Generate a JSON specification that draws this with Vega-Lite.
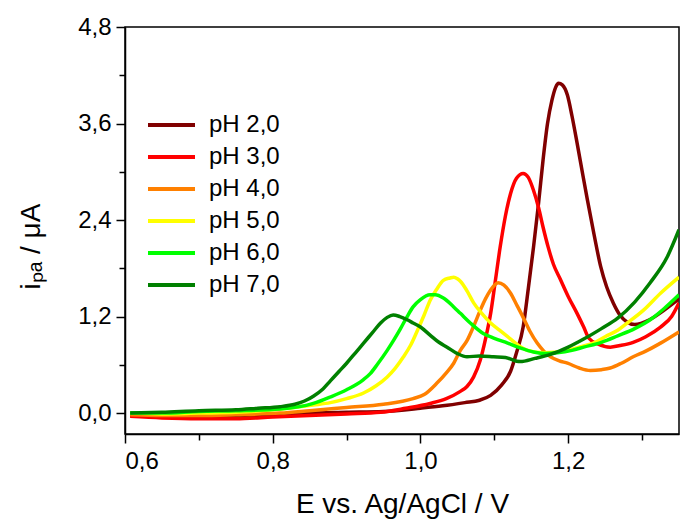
{
  "$schema": "https://vega.github.io/schema/vega-lite/v6.json",
  "width": 554,
  "height": 407,
  "autosize": {"type": "none"},
  "padding": {"left": 125, "top": 27, "right": 13, "bottom": 93},
  "background": "white",
  "config": {
    "view": {"stroke": "black", "strokeWidth": 1.5},
    "axis": {
      "grid": false,
      "domainColor": "black",
      "domainWidth": 1.5,
      "tickColor": "black",
      "tickWidth": 1.5,
      "labelFont": "Liberation Sans",
      "labelFontSize": 24,
      "labelColor": "black",
      "titleFont": "Liberation Sans",
      "titleFontSize": 28,
      "titleFontWeight": "normal",
      "titleColor": "black"
    },
    "legend": {
      "labelFont": "Liberation Sans",
      "labelFontSize": 24,
      "labelColor": "black"
    }
  },
  "data": {
    "values": [
      {"pH": "pH 2,0", "E": 0.607, "i": -0.03}, {"pH": "pH 2,0", "E": 0.65, "i": -0.04}, {"pH": "pH 2,0", "E": 0.7, "i": -0.05}, {"pH": "pH 2,0", "E": 0.75, "i": -0.04}, {"pH": "pH 2,0", "E": 0.8, "i": -0.02}, {"pH": "pH 2,0", "E": 0.85, "i": 0.0}, {"pH": "pH 2,0", "E": 0.9, "i": 0.01}, {"pH": "pH 2,0", "E": 0.95, "i": 0.02}, {"pH": "pH 2,0", "E": 1.0, "i": 0.06}, {"pH": "pH 2,0", "E": 1.03, "i": 0.09}, {"pH": "pH 2,0", "E": 1.06, "i": 0.13}, {"pH": "pH 2,0", "E": 1.08, "i": 0.16}, {"pH": "pH 2,0", "E": 1.095, "i": 0.22}, {"pH": "pH 2,0", "E": 1.11, "i": 0.35}, {"pH": "pH 2,0", "E": 1.122, "i": 0.52}, {"pH": "pH 2,0", "E": 1.13, "i": 0.75}, {"pH": "pH 2,0", "E": 1.139, "i": 1.07}, {"pH": "pH 2,0", "E": 1.146, "i": 1.55}, {"pH": "pH 2,0", "E": 1.153, "i": 2.06}, {"pH": "pH 2,0", "E": 1.16, "i": 2.62}, {"pH": "pH 2,0", "E": 1.166, "i": 3.15}, {"pH": "pH 2,0", "E": 1.172, "i": 3.6}, {"pH": "pH 2,0", "E": 1.178, "i": 3.89}, {"pH": "pH 2,0", "E": 1.183, "i": 4.05}, {"pH": "pH 2,0", "E": 1.187, "i": 4.1}, {"pH": "pH 2,0", "E": 1.192, "i": 4.08}, {"pH": "pH 2,0", "E": 1.199, "i": 3.95}, {"pH": "pH 2,0", "E": 1.205, "i": 3.7}, {"pH": "pH 2,0", "E": 1.212, "i": 3.36}, {"pH": "pH 2,0", "E": 1.22, "i": 2.95}, {"pH": "pH 2,0", "E": 1.226, "i": 2.65}, {"pH": "pH 2,0", "E": 1.235, "i": 2.22}, {"pH": "pH 2,0", "E": 1.244, "i": 1.82}, {"pH": "pH 2,0", "E": 1.252, "i": 1.57}, {"pH": "pH 2,0", "E": 1.261, "i": 1.37}, {"pH": "pH 2,0", "E": 1.27, "i": 1.22}, {"pH": "pH 2,0", "E": 1.28, "i": 1.13}, {"pH": "pH 2,0", "E": 1.29, "i": 1.1}, {"pH": "pH 2,0", "E": 1.31, "i": 1.16}, {"pH": "pH 2,0", "E": 1.33, "i": 1.28}, {"pH": "pH 2,0", "E": 1.35, "i": 1.42},

      {"pH": "pH 3,0", "E": 0.607, "i": -0.04}, {"pH": "pH 3,0", "E": 0.65, "i": -0.06}, {"pH": "pH 3,0", "E": 0.7, "i": -0.07}, {"pH": "pH 3,0", "E": 0.75, "i": -0.07}, {"pH": "pH 3,0", "E": 0.8, "i": -0.05}, {"pH": "pH 3,0", "E": 0.85, "i": -0.03}, {"pH": "pH 3,0", "E": 0.9, "i": -0.01}, {"pH": "pH 3,0", "E": 0.946, "i": 0.01}, {"pH": "pH 3,0", "E": 0.98, "i": 0.06}, {"pH": "pH 3,0", "E": 1.013, "i": 0.12}, {"pH": "pH 3,0", "E": 1.035, "i": 0.18}, {"pH": "pH 3,0", "E": 1.054, "i": 0.27}, {"pH": "pH 3,0", "E": 1.063, "i": 0.33}, {"pH": "pH 3,0", "E": 1.072, "i": 0.45}, {"pH": "pH 3,0", "E": 1.081, "i": 0.66}, {"pH": "pH 3,0", "E": 1.088, "i": 0.92}, {"pH": "pH 3,0", "E": 1.095, "i": 1.24}, {"pH": "pH 3,0", "E": 1.101, "i": 1.62}, {"pH": "pH 3,0", "E": 1.108, "i": 2.07}, {"pH": "pH 3,0", "E": 1.115, "i": 2.45}, {"pH": "pH 3,0", "E": 1.122, "i": 2.73}, {"pH": "pH 3,0", "E": 1.13, "i": 2.92}, {"pH": "pH 3,0", "E": 1.139, "i": 2.98}, {"pH": "pH 3,0", "E": 1.146, "i": 2.93}, {"pH": "pH 3,0", "E": 1.153, "i": 2.77}, {"pH": "pH 3,0", "E": 1.16, "i": 2.55}, {"pH": "pH 3,0", "E": 1.166, "i": 2.31}, {"pH": "pH 3,0", "E": 1.173, "i": 2.06}, {"pH": "pH 3,0", "E": 1.18, "i": 1.85}, {"pH": "pH 3,0", "E": 1.189, "i": 1.67}, {"pH": "pH 3,0", "E": 1.2, "i": 1.45}, {"pH": "pH 3,0", "E": 1.212, "i": 1.24}, {"pH": "pH 3,0", "E": 1.221, "i": 1.07}, {"pH": "pH 3,0", "E": 1.228, "i": 0.93}, {"pH": "pH 3,0", "E": 1.24, "i": 0.86}, {"pH": "pH 3,0", "E": 1.257, "i": 0.82}, {"pH": "pH 3,0", "E": 1.27, "i": 0.84}, {"pH": "pH 3,0", "E": 1.288, "i": 0.88}, {"pH": "pH 3,0", "E": 1.305, "i": 0.95}, {"pH": "pH 3,0", "E": 1.325, "i": 1.07}, {"pH": "pH 3,0", "E": 1.34, "i": 1.2}, {"pH": "pH 3,0", "E": 1.35, "i": 1.37},

      {"pH": "pH 4,0", "E": 0.607, "i": -0.02}, {"pH": "pH 4,0", "E": 0.65, "i": -0.03}, {"pH": "pH 4,0", "E": 0.7, "i": -0.03}, {"pH": "pH 4,0", "E": 0.75, "i": -0.02}, {"pH": "pH 4,0", "E": 0.81, "i": 0.0}, {"pH": "pH 4,0", "E": 0.85, "i": 0.03}, {"pH": "pH 4,0", "E": 0.9, "i": 0.07}, {"pH": "pH 4,0", "E": 0.95, "i": 0.11}, {"pH": "pH 4,0", "E": 0.99, "i": 0.18}, {"pH": "pH 4,0", "E": 1.005, "i": 0.23}, {"pH": "pH 4,0", "E": 1.022, "i": 0.37}, {"pH": "pH 4,0", "E": 1.035, "i": 0.5}, {"pH": "pH 4,0", "E": 1.045, "i": 0.62}, {"pH": "pH 4,0", "E": 1.054, "i": 0.78}, {"pH": "pH 4,0", "E": 1.063, "i": 0.9}, {"pH": "pH 4,0", "E": 1.072, "i": 1.08}, {"pH": "pH 4,0", "E": 1.081, "i": 1.28}, {"pH": "pH 4,0", "E": 1.088, "i": 1.42}, {"pH": "pH 4,0", "E": 1.095, "i": 1.53}, {"pH": "pH 4,0", "E": 1.1, "i": 1.59}, {"pH": "pH 4,0", "E": 1.105, "i": 1.62}, {"pH": "pH 4,0", "E": 1.113, "i": 1.59}, {"pH": "pH 4,0", "E": 1.122, "i": 1.49}, {"pH": "pH 4,0", "E": 1.13, "i": 1.35}, {"pH": "pH 4,0", "E": 1.139, "i": 1.19}, {"pH": "pH 4,0", "E": 1.148, "i": 1.02}, {"pH": "pH 4,0", "E": 1.158, "i": 0.87}, {"pH": "pH 4,0", "E": 1.167, "i": 0.77}, {"pH": "pH 4,0", "E": 1.176, "i": 0.7}, {"pH": "pH 4,0", "E": 1.188, "i": 0.65}, {"pH": "pH 4,0", "E": 1.199, "i": 0.62}, {"pH": "pH 4,0", "E": 1.215, "i": 0.56}, {"pH": "pH 4,0", "E": 1.23, "i": 0.53}, {"pH": "pH 4,0", "E": 1.245, "i": 0.54}, {"pH": "pH 4,0", "E": 1.257, "i": 0.56}, {"pH": "pH 4,0", "E": 1.272, "i": 0.62}, {"pH": "pH 4,0", "E": 1.288, "i": 0.7}, {"pH": "pH 4,0", "E": 1.305, "i": 0.77}, {"pH": "pH 4,0", "E": 1.325, "i": 0.87}, {"pH": "pH 4,0", "E": 1.35, "i": 1.01},

      {"pH": "pH 5,0", "E": 0.607, "i": 0.0}, {"pH": "pH 5,0", "E": 0.65, "i": -0.01}, {"pH": "pH 5,0", "E": 0.7, "i": 0.0}, {"pH": "pH 5,0", "E": 0.75, "i": 0.01}, {"pH": "pH 5,0", "E": 0.8, "i": 0.04}, {"pH": "pH 5,0", "E": 0.855, "i": 0.1}, {"pH": "pH 5,0", "E": 0.878, "i": 0.13}, {"pH": "pH 5,0", "E": 0.9, "i": 0.18}, {"pH": "pH 5,0", "E": 0.923, "i": 0.25}, {"pH": "pH 5,0", "E": 0.94, "i": 0.34}, {"pH": "pH 5,0", "E": 0.955, "i": 0.45}, {"pH": "pH 5,0", "E": 0.966, "i": 0.56}, {"pH": "pH 5,0", "E": 0.977, "i": 0.7}, {"pH": "pH 5,0", "E": 0.987, "i": 0.85}, {"pH": "pH 5,0", "E": 0.996, "i": 1.03}, {"pH": "pH 5,0", "E": 1.005, "i": 1.22}, {"pH": "pH 5,0", "E": 1.013, "i": 1.4}, {"pH": "pH 5,0", "E": 1.022, "i": 1.54}, {"pH": "pH 5,0", "E": 1.031, "i": 1.65}, {"pH": "pH 5,0", "E": 1.04, "i": 1.68}, {"pH": "pH 5,0", "E": 1.045, "i": 1.69}, {"pH": "pH 5,0", "E": 1.05, "i": 1.67}, {"pH": "pH 5,0", "E": 1.054, "i": 1.64}, {"pH": "pH 5,0", "E": 1.063, "i": 1.52}, {"pH": "pH 5,0", "E": 1.072, "i": 1.37}, {"pH": "pH 5,0", "E": 1.083, "i": 1.24}, {"pH": "pH 5,0", "E": 1.095, "i": 1.12}, {"pH": "pH 5,0", "E": 1.107, "i": 1.03}, {"pH": "pH 5,0", "E": 1.118, "i": 0.95}, {"pH": "pH 5,0", "E": 1.13, "i": 0.86}, {"pH": "pH 5,0", "E": 1.145, "i": 0.78}, {"pH": "pH 5,0", "E": 1.166, "i": 0.75}, {"pH": "pH 5,0", "E": 1.185, "i": 0.76}, {"pH": "pH 5,0", "E": 1.199, "i": 0.78}, {"pH": "pH 5,0", "E": 1.215, "i": 0.82}, {"pH": "pH 5,0", "E": 1.234, "i": 0.87}, {"pH": "pH 5,0", "E": 1.25, "i": 0.95}, {"pH": "pH 5,0", "E": 1.267, "i": 1.03}, {"pH": "pH 5,0", "E": 1.28, "i": 1.12}, {"pH": "pH 5,0", "E": 1.302, "i": 1.28}, {"pH": "pH 5,0", "E": 1.325, "i": 1.49}, {"pH": "pH 5,0", "E": 1.35, "i": 1.69},

      {"pH": "pH 6,0", "E": 0.607, "i": 0.0}, {"pH": "pH 6,0", "E": 0.65, "i": 0.0}, {"pH": "pH 6,0", "E": 0.7, "i": 0.02}, {"pH": "pH 6,0", "E": 0.75, "i": 0.03}, {"pH": "pH 6,0", "E": 0.81, "i": 0.05}, {"pH": "pH 6,0", "E": 0.855, "i": 0.12}, {"pH": "pH 6,0", "E": 0.878, "i": 0.2}, {"pH": "pH 6,0", "E": 0.9, "i": 0.29}, {"pH": "pH 6,0", "E": 0.922, "i": 0.41}, {"pH": "pH 6,0", "E": 0.932, "i": 0.49}, {"pH": "pH 6,0", "E": 0.942, "i": 0.61}, {"pH": "pH 6,0", "E": 0.955, "i": 0.78}, {"pH": "pH 6,0", "E": 0.964, "i": 0.91}, {"pH": "pH 6,0", "E": 0.973, "i": 1.05}, {"pH": "pH 6,0", "E": 0.982, "i": 1.2}, {"pH": "pH 6,0", "E": 0.99, "i": 1.32}, {"pH": "pH 6,0", "E": 1.0, "i": 1.41}, {"pH": "pH 6,0", "E": 1.013, "i": 1.47}, {"pH": "pH 6,0", "E": 1.02, "i": 1.47}, {"pH": "pH 6,0", "E": 1.031, "i": 1.43}, {"pH": "pH 6,0", "E": 1.045, "i": 1.32}, {"pH": "pH 6,0", "E": 1.054, "i": 1.24}, {"pH": "pH 6,0", "E": 1.07, "i": 1.1}, {"pH": "pH 6,0", "E": 1.085, "i": 0.99}, {"pH": "pH 6,0", "E": 1.1, "i": 0.93}, {"pH": "pH 6,0", "E": 1.118, "i": 0.87}, {"pH": "pH 6,0", "E": 1.135, "i": 0.81}, {"pH": "pH 6,0", "E": 1.153, "i": 0.76}, {"pH": "pH 6,0", "E": 1.17, "i": 0.74}, {"pH": "pH 6,0", "E": 1.185, "i": 0.75}, {"pH": "pH 6,0", "E": 1.205, "i": 0.78}, {"pH": "pH 6,0", "E": 1.221, "i": 0.82}, {"pH": "pH 6,0", "E": 1.245, "i": 0.88}, {"pH": "pH 6,0", "E": 1.267, "i": 0.96}, {"pH": "pH 6,0", "E": 1.29, "i": 1.05}, {"pH": "pH 6,0", "E": 1.311, "i": 1.16}, {"pH": "pH 6,0", "E": 1.33, "i": 1.3}, {"pH": "pH 6,0", "E": 1.35, "i": 1.47},

      {"pH": "pH 7,0", "E": 0.607, "i": 0.0}, {"pH": "pH 7,0", "E": 0.65, "i": 0.01}, {"pH": "pH 7,0", "E": 0.7, "i": 0.03}, {"pH": "pH 7,0", "E": 0.75, "i": 0.04}, {"pH": "pH 7,0", "E": 0.78, "i": 0.06}, {"pH": "pH 7,0", "E": 0.81, "i": 0.08}, {"pH": "pH 7,0", "E": 0.83, "i": 0.11}, {"pH": "pH 7,0", "E": 0.843, "i": 0.15}, {"pH": "pH 7,0", "E": 0.855, "i": 0.21}, {"pH": "pH 7,0", "E": 0.868, "i": 0.3}, {"pH": "pH 7,0", "E": 0.878, "i": 0.4}, {"pH": "pH 7,0", "E": 0.89, "i": 0.52}, {"pH": "pH 7,0", "E": 0.9, "i": 0.62}, {"pH": "pH 7,0", "E": 0.912, "i": 0.75}, {"pH": "pH 7,0", "E": 0.923, "i": 0.87}, {"pH": "pH 7,0", "E": 0.935, "i": 1.0}, {"pH": "pH 7,0", "E": 0.946, "i": 1.12}, {"pH": "pH 7,0", "E": 0.955, "i": 1.19}, {"pH": "pH 7,0", "E": 0.963, "i": 1.22}, {"pH": "pH 7,0", "E": 0.972, "i": 1.2}, {"pH": "pH 7,0", "E": 0.982, "i": 1.16}, {"pH": "pH 7,0", "E": 0.99, "i": 1.12}, {"pH": "pH 7,0", "E": 1.0, "i": 1.07}, {"pH": "pH 7,0", "E": 1.013, "i": 0.97}, {"pH": "pH 7,0", "E": 1.025, "i": 0.88}, {"pH": "pH 7,0", "E": 1.036, "i": 0.82}, {"pH": "pH 7,0", "E": 1.05, "i": 0.74}, {"pH": "pH 7,0", "E": 1.063, "i": 0.7}, {"pH": "pH 7,0", "E": 1.08, "i": 0.71}, {"pH": "pH 7,0", "E": 1.099, "i": 0.7}, {"pH": "pH 7,0", "E": 1.115, "i": 0.69}, {"pH": "pH 7,0", "E": 1.135, "i": 0.64}, {"pH": "pH 7,0", "E": 1.155, "i": 0.68}, {"pH": "pH 7,0", "E": 1.176, "i": 0.73}, {"pH": "pH 7,0", "E": 1.2, "i": 0.82}, {"pH": "pH 7,0", "E": 1.221, "i": 0.92}, {"pH": "pH 7,0", "E": 1.245, "i": 1.05}, {"pH": "pH 7,0", "E": 1.267, "i": 1.18}, {"pH": "pH 7,0", "E": 1.29, "i": 1.38}, {"pH": "pH 7,0", "E": 1.311, "i": 1.62}, {"pH": "pH 7,0", "E": 1.334, "i": 1.94}, {"pH": "pH 7,0", "E": 1.35, "i": 2.28}
    ]
  },
  "mark": {"type": "line", "strokeWidth": 3.5, "interpolate": "monotone", "clip": true},
  "encoding": {
    "x": {
      "field": "E",
      "type": "quantitative",
      "scale": {"domain": [0.6, 1.35], "nice": false, "zero": false},
      "axis": {
        "title": "E vs. Ag/AgCl / V",
        "values": [0.6, 0.7, 0.8, 0.9, 1.0, 1.1, 1.2, 1.3],
        "tickSize": {"condition": {"test": "round(datum.value*10) % 2 == 1", "value": 6}, "value": 9},
        "labelPadding": 6,
        "titlePadding": 17,
        "labelExpr": "round(datum.value*10) % 2 == 1 ? '' : replace(format(datum.value, '.1f'), '.', ',')"
      }
    },
    "y": {
      "field": "i",
      "type": "quantitative",
      "scale": {"domain": [-0.26, 4.8], "nice": false, "zero": false},
      "axis": {
        "title": "iₚₐ / μA",
        "titleY": 219,
        "values": [0, 0.6, 1.2, 1.8, 2.4, 3.0, 3.6, 4.2, 4.8],
        "tickSize": {"condition": {"test": "round(datum.value/0.6) % 2 == 1", "value": 6}, "value": 9},
        "labelPadding": 5,
        "titlePadding": 32,
        "labelExpr": "round(datum.value/0.6) % 2 == 1 ? '' : replace(format(datum.value, '.1f'), '.', ',')"
      }
    },
    "color": {
      "field": "pH",
      "type": "nominal",
      "scale": {
        "domain": ["pH 2,0", "pH 3,0", "pH 4,0", "pH 5,0", "pH 6,0", "pH 7,0"],
        "range": ["#800000", "#ff0000", "#ff8000", "#ffff00", "#00ff00", "#008000"]
      },
      "legend": {
        "title": null,
        "orient": "none",
        "legendX": 21,
        "legendY": 84,
        "padding": 0,
        "symbolType": "stroke",
        "symbolSize": 2209,
        "symbolStrokeWidth": 4,
        "clipHeight": 28,
        "rowPadding": 4,
        "labelOffset": 12
      }
    }
  }
}
